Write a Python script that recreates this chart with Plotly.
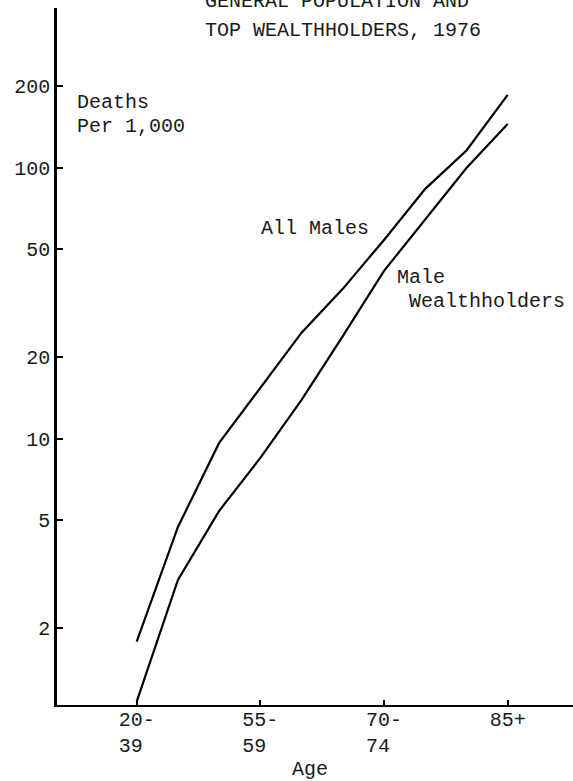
import plotly.graph_objects as go

# ---- data ----
age_groups = ["20-39", "40-49", "50-54", "55-59", "60-64", "65-69", "70-74", "75-79", "80-84", "85+"]
all_males = [1.78, 4.72, 9.64, 15.4, 24.6, 35.7, 54.1, 83.5, 115.7, 185.4]
male_wealthholders = [1.07, 3.01, 5.41, 8.49, 13.9, 23.9, 41.6, 64.1, 99.7, 145.0]

x_tick_vals = ["20-39", "55-59", "70-74", "85+"]
x_tick_text = ["20-<br>39\u00a0", "55-<br>59\u00a0", "70-<br>74\u00a0", "85+<br>\u00a0"]
y_tick_vals = [2, 5, 10, 20, 50, 100, 200]
y_tick_text = ["2", "5", "10", "20", "50", "100", "200"]

title_lines = ["GENERAL POPULATION AND", "TOP WEALTHHOLDERS, 1976"]

# ---- layout geometry (pixels) ----
W, H = 573, 781
ML, MR, MT, MB = 57, 0, 8, 76
PW, PH = W - ML - MR, H - MT - MB


def px_x(px):
    return (px - ML) / PW


def px_y(py):
    return (H - MB - py) / PH


FONT = "Liberation Mono, Courier New, monospace"
INK = "#1a1a1a"

fig = go.Figure()
fig.add_trace(go.Scatter(x=age_groups, y=all_males, mode="lines",
                         line=dict(color="black", width=2.2), name="All Males"))
fig.add_trace(go.Scatter(x=age_groups, y=male_wealthholders, mode="lines",
                         line=dict(color="black", width=2.2), name="Male Wealthholders"))

fig.update_layout(
    width=W, height=H,
    margin=dict(l=ML, r=MR, t=MT, b=MB, pad=0),
    paper_bgcolor="white", plot_bgcolor="white",
    showlegend=False,
    font=dict(family=FONT, size=20, color=INK),
)

fig.update_xaxes(
    type="category",
    categoryorder="array", categoryarray=age_groups,
    range=[-1.934, 10.585],
    tickmode="array", tickvals=x_tick_vals, ticktext=x_tick_text,
    ticks="inside", ticklen=5, tickwidth=2, tickcolor="black",
    showline=True, linewidth=2.2, linecolor="black",
    showgrid=False, zeroline=False,
    ticklabelstandoff=-5,
    tickfont=dict(family=FONT, size=20, color=INK),
)

fig.update_yaxes(
    type="log",
    range=[0.017, 2.589],
    tickmode="array", tickvals=y_tick_vals, ticktext=y_tick_text,
    ticks="inside", ticklen=6, tickwidth=2, tickcolor="black",
    showline=True, linewidth=2.5, linecolor="black",
    showgrid=False, zeroline=False,
    tickfont=dict(family=FONT, size=20, color=INK),
)

annots = [
    dict(text=title_lines[0], x=px_x(203), y=px_y(1), xanchor="left", yanchor="middle"),
    dict(text=title_lines[1], x=px_x(203), y=px_y(30), xanchor="left", yanchor="middle"),
    dict(text="Deaths", x=px_x(75), y=px_y(102), xanchor="left", yanchor="middle"),
    dict(text="Per 1,000", x=px_x(75), y=px_y(126), xanchor="left", yanchor="middle"),
    dict(text="All Males", x=px_x(259), y=px_y(228), xanchor="left", yanchor="middle"),
    dict(text="Male", x=px_x(395), y=px_y(277), xanchor="left", yanchor="middle"),
    dict(text="Wealthholders", x=px_x(407), y=px_y(302), xanchor="left", yanchor="middle"),
    dict(text="Age", x=px_x(310), y=px_y(769), xanchor="center", yanchor="middle"),
]
for a in annots:
    fig.add_annotation(xref="paper", yref="paper", showarrow=False,
                       font=dict(family=FONT, size=20, color=INK), **a)

fig.write_html(
    "out.html",
    config={"displayModeBar": False},
    post_script="document.body.style.margin='0';document.body.style.overflow='hidden';",
)
